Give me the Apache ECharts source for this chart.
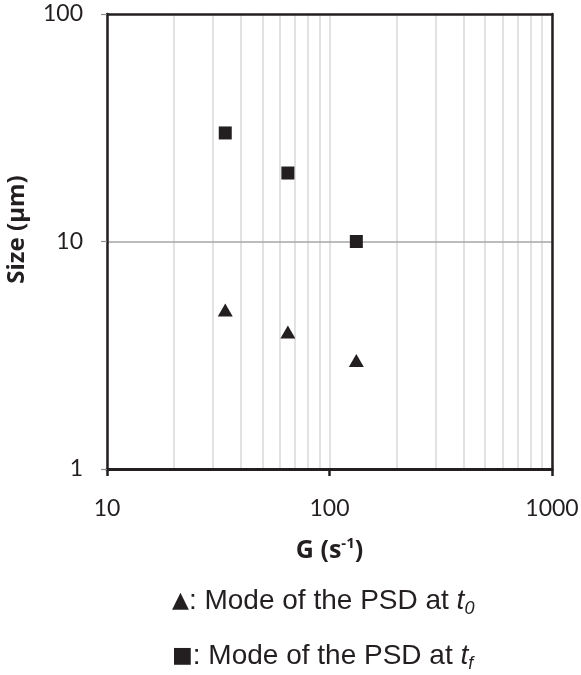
<!DOCTYPE html>
<html>
<head>
<meta charset="utf-8">
<script src="https://cdn.jsdelivr.net/npm/echarts@6/dist/echarts.min.js"></script>
<style>
html,body{margin:0;padding:0;background:#fff;}
#c{width:581px;height:675px;}
</style>
</head>
<body>
<div id="c"></div>
<script>
// Data
var shearRate = [34, 65, 132];          // G (s^-1)
var modeT0 = [5, 4, 3];                 // mode of PSD at t0 (µm)
var modeTf = [30, 20, 10];              // mode of PSD at tf (µm)
var xMinorGrid = [20, 30, 40, 50, 60, 70, 80, 90, 200, 300, 400, 500, 600, 700, 800, 900];
var xTickLabels = ['10', '100', '1000'];
var yTickLabels = ['1', '10', '100'];

var dark = '#231f20';
var chart = echarts.init(document.getElementById('c'), null, {renderer: 'canvas'});

function pairs(xs, ys) { return xs.map(function (x, i) { return [x, ys[i]]; }); }

var frameAxis = {
  axisLine: {show: true, lineStyle: {color: dark, width: 2.5}},
  axisTick: {show: false}, axisLabel: {show: false}, splitLine: {show: false}
};

var legendRich = {
  n: {fontFamily: 'Liberation Sans', fontSize: 28, fill: dark, lineHeight: 34},
  sym: {fontFamily: 'DejaVu Sans', fontSize: 22, fill: dark, lineHeight: 34},
  i: {fontFamily: 'Liberation Sans', fontStyle: 'italic', fontSize: 28, fill: dark, lineHeight: 34},
  s: {fontFamily: 'Liberation Sans', fontStyle: 'italic', fontSize: 18, fill: dark, lineHeight: 18, verticalAlign: 'bottom'}
};

var option = {
  animation: false,
  backgroundColor: '#ffffff',
  grid: {left: 107, right: 29, top: 14, bottom: 206, containLabel: false, outerBoundsMode: 'none'},
  xAxis: [{
    type: 'log', logBase: 10, min: 10, max: 1000,
    name: '{b|G (s}{sup|-1}{b|)}',
    nameLocation: 'middle', nameGap: 67,
    nameTextStyle: {
      rich: {
        b: {fontFamily: 'Open Sans', fontWeight: 'bold', fontSize: 25, color: dark, lineHeight: 30},
        sup: {fontFamily: 'Open Sans', fontWeight: 'bold', fontSize: 15, color: dark, lineHeight: 16, verticalAlign: 'top'}
      }
    },
    axisLine: {show: true, lineStyle: {color: dark, width: 3}},
    axisTick: {show: true, inside: false, length: 7, lineStyle: {color: dark, width: 2.5}},
    axisLabel: {
      margin: 28, fontFamily: 'Lato', fontSize: 23, color: dark,
      formatter: function (v) { var i = Math.round(Math.log10(v)) - 1; return xTickLabels[i] !== undefined ? xTickLabels[i] : ''; }
    },
    splitLine: {show: true, lineStyle: {color: '#d9d9d9', width: 1.5}},
    minorTick: {show: false},
    minorSplitLine: {show: false},
    z: 2
  }, Object.assign({type: 'log', logBase: 10, min: 10, max: 1000, position: 'top', z: 3}, frameAxis)],
  yAxis: [{
    type: 'log', logBase: 10, min: 1, max: 100,
    name: 'Size (µm)',
    nameLocation: 'middle', nameGap: 72, nameRotate: 90,
    nameTextStyle: {fontFamily: 'Open Sans', fontWeight: 'bold', fontSize: 24, color: dark, lineHeight: 30, padding: [0, 0, 0, 24]},
    axisLine: {show: true, lineStyle: {color: dark, width: 2.5}},
    axisTick: {show: true, inside: false, length: 6, lineStyle: {color: '#8c8c8c', width: 1.2}},
    axisLabel: {
      margin: 24, fontFamily: 'Lato', fontSize: 23, color: dark,
      formatter: function (v) { var i = Math.round(Math.log10(v)); return yTickLabels[i] !== undefined ? yTickLabels[i] : ''; }
    },
    splitLine: {show: true, lineStyle: {color: ['rgba(0,0,0,0)', '#a6a6a6', 'rgba(0,0,0,0)'], width: 1.5}},
    z: 3
  }, Object.assign({type: 'log', logBase: 10, min: 1, max: 100, position: 'right', z: 3}, frameAxis)],
  series: [
    {
      type: 'scatter', name: 'tf', data: pairs(shearRate, modeTf),
      symbol: 'rect', symbolSize: 13, itemStyle: {color: dark, opacity: 1}, z: 5,
      markLine: {
        silent: true, symbol: ['none', 'none'], animation: false,
        label: {show: false},
        lineStyle: {color: '#d9d9d9', width: 1.5, type: 'solid', opacity: 1},
        emphasis: {disabled: true},
        data: xMinorGrid.map(function (v) { return {xAxis: v}; }),
        z: 1
      }
    },
    {
      type: 'scatter', name: 't0', data: pairs(shearRate, modeT0),
      symbol: 'triangle', symbolSize: [15, 13], itemStyle: {color: dark, opacity: 1}, z: 5
    }
  ],
  graphic: [
    {
      type: 'text', left: 172, top: 587,
      style: {text: '{sym|▲}{n|: Mode of the PSD at }{i|t}{s|0}', rich: legendRich}
    },
    {
      type: 'text', left: 172, top: 642,
      style: {text: '{sym|■}{n|: Mode of the PSD at }{i|t}{s|f}', rich: legendRich}
    }
  ]
};
chart.setOption(option);
</script>
</body>
</html>
